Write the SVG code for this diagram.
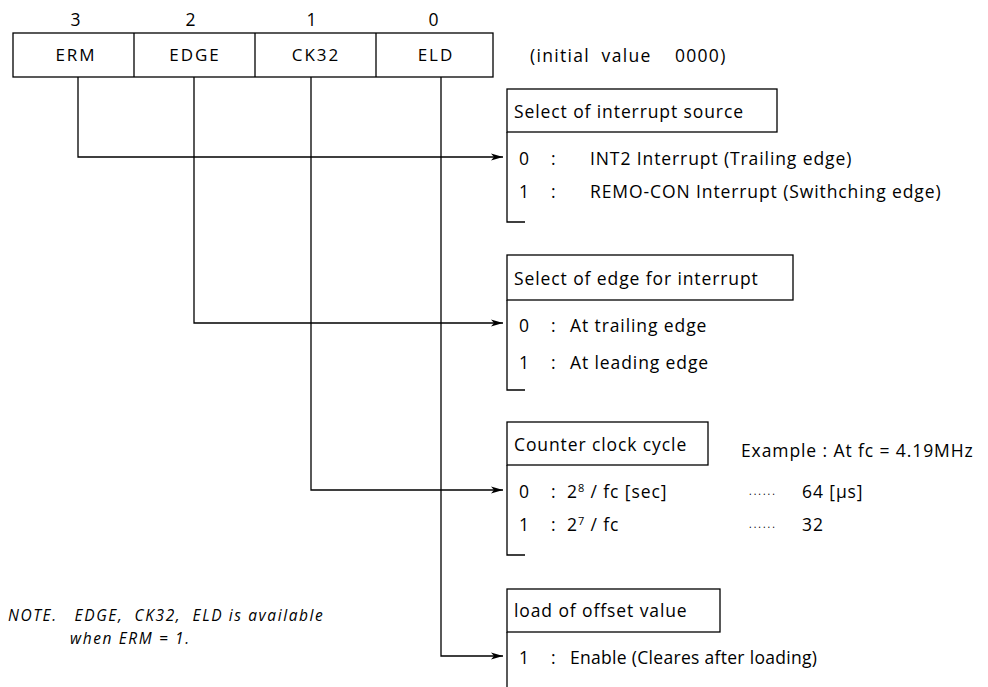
<svg xmlns="http://www.w3.org/2000/svg" width="988" height="687" viewBox="0 0 988 687">
<defs>
<marker id="arr" viewBox="0 0 12 8" refX="12" refY="4" markerWidth="12" markerHeight="8" markerUnits="userSpaceOnUse" orient="auto">
<path d="M0,0.5 L12,4 L0,7.5 L3,4 Z" fill="#000"/>
</marker>
<style>
text{font-family:"Open Sans","DejaVu Sans",sans-serif;fill:#000;font-size:17.5px;letter-spacing:0.9px;white-space:pre}
.c{text-anchor:middle}
.reg{font-size:17px;letter-spacing:2px}
.box{fill:#fff;stroke:#000;stroke-width:1.3}
.ln{fill:none;stroke:#000;stroke-width:1.3}
.it{font-style:italic;font-size:15.5px;letter-spacing:1.6px}
.dot{font-size:10px;letter-spacing:2px}
.wide{letter-spacing:1.3px}
.narrow{letter-spacing:0.3px}
</style>
</defs>
<rect width="988" height="687" fill="#fff"/>

<g id="register">
<text class="c" x="76" y="26">3</text>
<text class="c" x="191" y="26">2</text>
<text class="c" x="312" y="26">1</text>
<text class="c" x="434" y="26">0</text>
<rect class="box" x="13" y="33" width="480" height="44"/>
<line class="ln" x1="134" y1="33" x2="134" y2="77"/>
<line class="ln" x1="255" y1="33" x2="255" y2="77"/>
<line class="ln" x1="376" y1="33" x2="376" y2="77"/>
<text class="c reg" x="76" y="61">ERM</text>
<text class="c reg" x="195" y="61">EDGE</text>
<text class="c reg" x="316" y="61">CK32</text>
<text class="c reg" x="436" y="61">ELD</text>
<text class="wide" x="530" y="62">(initial  value    0000)</text>
</g>

<g id="connectors">
<path class="ln" d="M78,77 V157 H503" marker-end="url(#arr)"/>
<path class="ln" d="M194,77 V323 H503" marker-end="url(#arr)"/>
<path class="ln" d="M311,77 V490 H503" marker-end="url(#arr)"/>
<path class="ln" d="M441,77 V656 H503" marker-end="url(#arr)"/>
</g>

<g id="interrupt-source">
<rect class="box" x="507" y="89" width="270" height="43"/>
<text x="514" y="118">Select of interrupt source</text>
<path class="ln" d="M507,132 V222 H525"/>
<text x="519" y="165">0</text>
<text x="551" y="165">:</text>
<text x="590" y="165">INT2 Interrupt (Trailing edge)</text>
<text x="519" y="198">1</text>
<text x="551" y="198">:</text>
<text x="590" y="198">REMO-CON Interrupt (Swithching edge)</text>
</g>

<g id="edge-select">
<rect class="box" x="507" y="255" width="286" height="45"/>
<text x="514" y="285">Select of edge for interrupt</text>
<path class="ln" d="M507,300 V390 H525"/>
<text x="519" y="332">0</text>
<text x="551" y="332">:</text>
<text x="570" y="332">At trailing edge</text>
<text x="519" y="369">1</text>
<text x="551" y="369">:</text>
<text x="570" y="369">At leading edge</text>
</g>

<g id="counter-clock">
<rect class="box" x="507" y="422" width="201" height="43"/>
<text x="514" y="451">Counter clock cycle</text>
<path class="ln" d="M507,465 V555 H525"/>
<text x="519" y="498">0</text>
<text x="551" y="498">:</text>
<text x="567" y="498">2<tspan font-size="11" dy="-6">8</tspan><tspan dy="6"> / fc [sec]</tspan></text>
<text x="519" y="531">1</text>
<text x="551" y="531">:</text>
<text x="567" y="531">2<tspan font-size="11" dy="-6">7</tspan><tspan dy="6"> / fc</tspan></text>
<text x="741" y="457">Example : At fc = 4.19MHz</text>
<text class="dot" x="749" y="495">......</text>
<text x="802" y="498">64 [µs]</text>
<text class="dot" x="749" y="528">......</text>
<text x="802" y="531">32</text>
</g>

<g id="offset-load">
<rect class="box" x="507" y="589" width="213" height="43"/>
<text x="514" y="617">load of offset value</text>
<path class="ln" d="M507,632 V687"/>
<text x="519" y="664">1</text>
<text x="551" y="664">:</text>
<text class="narrow" x="570" y="664">Enable (Cleares after loading)</text>
</g>

<g id="note">
<text class="it" x="8" y="621">NOTE.   EDGE,  CK32,  ELD is available</text>
<text class="it" x="70" y="644">when ERM = 1.</text>
</g>
</svg>
